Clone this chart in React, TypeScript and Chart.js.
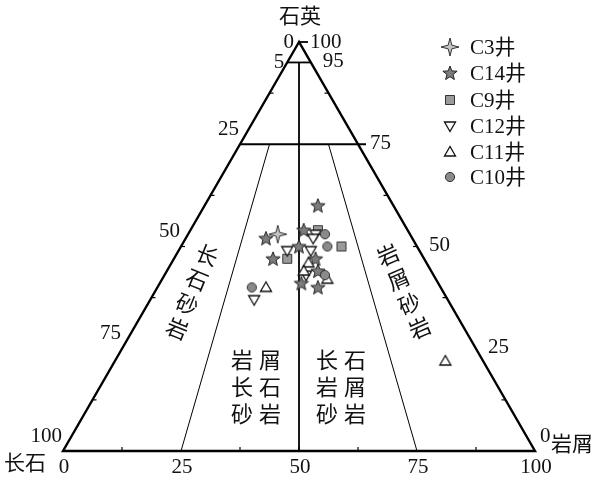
import React, { useEffect, useRef } from "react";
import { Chart, registerables } from "chart.js";
Chart.register(...registerables);

// Corner (end-member) labels
const apexLabel = "石英";
const leftLabel = "长石";
const rightLabel = "岩屑";

// Tick labels
const feldsparTicks = [0, 5, 25, 50, 75, 100]; // left edge (top -> bottom)
const quartzTicks = [100, 95, 75, 50, 25, 0]; // right edge (top -> bottom)
const lithicTicks = [0, 25, 50, 75, 100]; // bottom edge

// Series names
const seriesNames = ["C3井", "C14井", "C9井", "C12井", "C11井", "C10井"];

// Data: Q = quartz %, F = feldspar %, R = lithic %
const c3Q = [53];
const c3F = [28];
const c3R = [19];

const c14Q = [60, 52, 54, 50, 47, 47, 44, 41, 40];
const c14F = [16, 31, 22, 25, 32, 23, 24, 29, 26];
const c14R = [24, 17, 24, 25, 21, 30, 32, 30, 34];

const c9Q = [54, 50, 47];
const c9F = [19, 16, 29];
const c9R = [27, 34, 24];

const c12Q = [53, 49, 52, 49, 43, 37];
const c12F = [20, 28, 21, 23, 27, 41];
const c12R = [27, 23, 27, 28, 30, 22];

const c11Q = [46, 44, 42, 40, 22];
const c11F = [25, 27, 23, 37, 8];
const c11R = [29, 29, 35, 23, 70];

const c10Q = [53, 50, 43, 40];
const c10F = [18, 19, 23, 40];
const c10R = [29, 31, 34, 20];

const H = Math.sqrt(3) / 2;

function toXY(q: number[], f: number[], r: number[]) {
  return q.map((qq, i) => {
    const tot = qq + f[i] + r[i];
    const Q = (qq / tot) * 100;
    const R = (r[i] / tot) * 100;
    return { x: R + Q / 2, y: Q * H };
  });
}

type Kind = "sparkle" | "star" | "square" | "tridown" | "triup" | "circle";

function makeSymbol(kind: Kind): HTMLCanvasElement {
  const s = 22;
  const c = document.createElement("canvas");
  c.width = s;
  c.height = s;
  const g = c.getContext("2d")!;
  const cx = s / 2;
  const cy = s / 2;
  g.lineJoin = "miter";
  g.beginPath();
  if (kind === "sparkle") {
    const ro = 9, ri = 2.6;
    for (let i = 0; i < 8; i++) {
      const a = -Math.PI / 2 + (i * Math.PI) / 4;
      const rr = i % 2 === 0 ? ro : ri;
      const px = cx + rr * Math.cos(a), py = cy + rr * Math.sin(a);
      i === 0 ? g.moveTo(px, py) : g.lineTo(px, py);
    }
    g.closePath();
    g.fillStyle = "#c4c4c4";
    g.fill();
    g.strokeStyle = "#333";
    g.lineWidth = 1;
    g.stroke();
  } else if (kind === "star") {
    const ro = 7.5, ri = 3.2;
    for (let i = 0; i < 10; i++) {
      const a = -Math.PI / 2 + (i * Math.PI) / 5;
      const rr = i % 2 === 0 ? ro : ri;
      const px = cx + rr * Math.cos(a), py = cy + 0.5 + rr * Math.sin(a);
      i === 0 ? g.moveTo(px, py) : g.lineTo(px, py);
    }
    g.closePath();
    g.fillStyle = "#7c7c7c";
    g.fill();
    g.strokeStyle = "#222";
    g.lineWidth = 1;
    g.stroke();
  } else if (kind === "square") {
    g.rect(cx - 4.5, cy - 4.5, 9, 9);
    g.fillStyle = "#9a9a9a";
    g.fill();
    g.strokeStyle = "#333";
    g.lineWidth = 1;
    g.stroke();
  } else if (kind === "tridown") {
    g.moveTo(cx - 5.5, cy - 4);
    g.lineTo(cx + 5.5, cy - 4);
    g.lineTo(cx, cy + 5.5);
    g.closePath();
    g.fillStyle = "#fff";
    g.fill();
    g.strokeStyle = "#111";
    g.lineWidth = 1.3;
    g.stroke();
  } else if (kind === "triup") {
    g.moveTo(cx - 5.5, cy + 4);
    g.lineTo(cx + 5.5, cy + 4);
    g.lineTo(cx, cy - 5.5);
    g.closePath();
    g.fillStyle = "#fff";
    g.fill();
    g.strokeStyle = "#111";
    g.lineWidth = 1.3;
    g.stroke();
  } else {
    g.arc(cx, cy, 4.6, 0, Math.PI * 2);
    g.fillStyle = "#8a8a8a";
    g.fill();
    g.strokeStyle = "#333";
    g.lineWidth = 1;
    g.stroke();
  }
  return c;
}

const NUM_FONT = '21px "Liberation Serif", "Times New Roman", serif';
const CJK_FONT = '21px "Noto Sans CJK SC", sans-serif';
const LEG_FONT = '21px "Liberation Serif", "Noto Sans CJK SC", serif';

export default function App() {
  const ref = useRef<HTMLCanvasElement>(null);

  useEffect(() => {
    document.body.style.margin = "0";
    const canvas = ref.current!;
    const kinds: Kind[] = ["sparkle", "star", "square", "tridown", "triup", "circle"];
    const symbols = kinds.map(makeSymbol);
    const pts = [
      toXY(c3Q, c3F, c3R),
      toXY(c14Q, c14F, c14R),
      toXY(c9Q, c9F, c9R),
      toXY(c12Q, c12F, c12R),
      toXY(c11Q, c11F, c11R),
      toXY(c10Q, c10F, c10R),
    ];
    const order = [5, 4, 3, 2, 1, 0];

    const ternary = {
      id: "ternary",
      beforeDatasetsDraw(chart: any) {
        const g: CanvasRenderingContext2D = chart.ctx;
        const xs = chart.scales.x, ys = chart.scales.y;
        const P = (q: number, r: number) => ({
          x: xs.getPixelForValue(r + q / 2),
          y: ys.getPixelForValue(q * H),
        });
        const line = (a: any, b: any, w: number) => {
          g.beginPath();
          g.moveTo(a.x, a.y);
          g.lineTo(b.x, b.y);
          g.lineWidth = w;
          g.strokeStyle = "#000";
          g.stroke();
        };
        g.save();
        g.lineCap = "butt";
        // thin ratio lines
        line(P(75, 25 * 0.25), P(0, 25), 1);
        line(P(75, 25 * 0.75), P(0, 75), 1);
        // center line
        line(P(95, 2.5), P(0, 50), 1.8);
        // Q=95 and Q=75 lines
        line(P(95, 0), P(95, 5), 1.8);
        const r75 = P(75, 25);
        line(P(75, 0), { x: r75.x + 8, y: r75.y }, 1.8);
        // triangle
        const A = P(100, 0), B = P(0, 0), C = P(0, 100);
        g.beginPath();
        g.moveTo(A.x, A.y);
        g.lineTo(B.x, B.y);
        g.lineTo(C.x, C.y);
        g.closePath();
        g.lineWidth = 2.4;
        g.lineJoin = "miter";
        g.stroke();
        // apex tick
        line(A, { x: A.x + 9, y: A.y }, 1.8);
        // ticks
        for (let v = 12.5; v < 100; v += 12.5) {
          if (v === 75 || v === 25) continue;
          const bp = P(0, v);
          line(bp, { x: bp.x, y: bp.y - 4 }, 1.2);
          const lp = P(100 - v, 0);
          line(lp, { x: lp.x + 4, y: lp.y }, 1.2);
          const rp = P(v, 100 - v);
          line(rp, { x: rp.x - 4, y: rp.y }, 1.2);
        }
        g.restore();
      },
      afterDraw(chart: any) {
        const g: CanvasRenderingContext2D = chart.ctx;
        const xs = chart.scales.x, ys = chart.scales.y;
        const P = (q: number, r: number) => ({
          x: xs.getPixelForValue(r + q / 2),
          y: ys.getPixelForValue(q * H),
        });
        g.save();
        g.fillStyle = "#111";
        g.textBaseline = "middle";
        // tick labels
        g.font = NUM_FONT;
        feldsparTicks.forEach((f) => {
          const p = P(100 - f, 0);
          g.textAlign = "right";
          if (f === 0) g.fillText(String(f), p.x - 5, p.y);
          else if (f === 5) g.fillText(String(f), p.x - 3, p.y);
          else g.fillText(String(f), p.x - 1, p.y - 15);
        });
        quartzTicks.forEach((q) => {
          const p = P(q, 100 - q);
          g.textAlign = "left";
          if (q === 100) g.fillText(String(q), p.x + 11, p.y);
          else if (q === 0) g.fillText(String(q), p.x + 5, p.y - 15);
          else g.fillText(String(q), p.x + 12, p.y - 1);
        });
        lithicTicks.forEach((r) => {
          const p = P(0, r);
          g.textAlign = "center";
          g.fillText(String(r), p.x + 1, p.y + 16);
        });
        // corner labels
        g.font = CJK_FONT;
        const A = P(100, 0), B = P(0, 0), C = P(0, 100);
        g.textAlign = "center";
        g.fillText(apexLabel, A.x + 1, A.y - 27);
        g.textAlign = "right";
        g.fillText(leftLabel, B.x - 17, B.y + 11);
        g.textAlign = "left";
        g.fillText(rightLabel, C.x + 16, C.y - 8);

        // region labels
        const column = (text: string, x: number, y: number, ang: number, step: number) => {
          g.save();
          g.translate(x, y);
          g.rotate((ang * Math.PI) / 180);
          g.textAlign = "center";
          [...text].forEach((ch, i) => g.fillText(ch, 0, i * step));
          g.restore();
        };
        g.font = '22px "Noto Sans CJK SC", sans-serif';
        column("长石砂岩", 207, 255, 22, 26.5);
        column("岩屑砂岩", 388, 255, -23.5, 26.5);
        const block = (rows: string[], x: number, y: number) => {
          g.textAlign = "center";
          rows.forEach((row, i) => {
            [...row].forEach((ch, j) => g.fillText(ch, x + j * 28, y + i * 27));
          });
        };
        block(["岩屑", "长石", "砂岩"], 242, 360);
        block(["长石", "岩屑", "砂岩"], 327, 360);

        // legend
        const rowsY = [47, 73, 100, 126, 152, 177];
        seriesNames.forEach((name, i) => {
          const img = symbols[i];
          g.drawImage(img, 450 - img.width / 2, rowsY[i] - img.height / 2);
          g.font = LEG_FONT;
          g.textAlign = "left";
          g.fillText(name, 470, rowsY[i] + 1);
        });
        g.restore();
      },
    };

    const datasets = order.map((i) => ({
      label: seriesNames[i],
      data: pts[i],
      pointStyle: symbols[i] as any,
      pointRadius: 6,
      showLine: false,
    }));

    const chart = new Chart(canvas.getContext("2d")!, {
      type: "scatter",
      data: { datasets },
      options: {
        responsive: false,
        animation: false,
        events: [],
        layout: { padding: { left: 63, right: 60, top: 42, bottom: 31 } },
        scales: {
          x: { type: "linear", min: 0, max: 100, display: false },
          y: { type: "linear", min: 0, max: 100 * H, display: false },
        },
        plugins: { legend: { display: false }, tooltip: { enabled: false } },
      },
      plugins: [ternary as any],
    });
    return () => chart.destroy();
  }, []);

  return <canvas ref={ref} width={595} height={482} style={{ display: "block" }} />;
}
